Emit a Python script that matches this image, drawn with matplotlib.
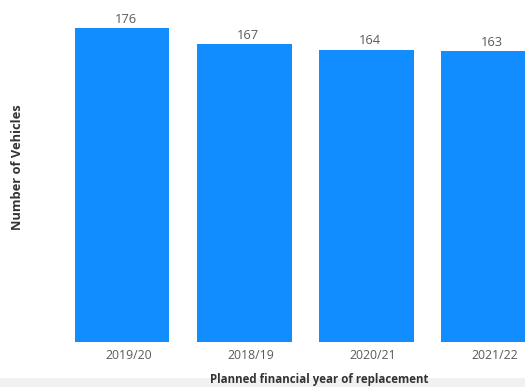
import matplotlib
matplotlib.use("Agg")
import matplotlib.pyplot as plt
from matplotlib.patches import Rectangle

categories = ["2019/20", "2018/19", "2020/21", "2021/22"]
values = [176, 167, 164, 163]

W, H = 525, 387
fig = plt.figure(figsize=(W / 100, H / 100), dpi=100)
fig.patch.set_facecolor("white")

# bottom gray strip
fig.patches.append(Rectangle((0, 0), 1, 9 / H, transform=fig.transFigure,
                             facecolor="#f1f1f1", edgecolor="none", zorder=0))

step = 122.2
left_px = 61
bottom_px = 342
ymax = 190
px_per_unit = (342 - 28.3) / 176
ax = fig.add_axes([left_px / W, 1 - bottom_px / H,
                   4 * step / W, ymax * px_per_unit / H])
ax.set_facecolor("none")

x = list(range(len(categories)))
bars = ax.bar(x, values, width=0.775, color="#118DFF", zorder=2)
ax.set_xlim(-0.5, len(categories) - 0.5)
ax.set_ylim(0, ymax)

for b, v in zip(bars, values):
    ax.text(b.get_x() + b.get_width() / 2 + 0.03, v + 1.3, str(v),
            ha="center", va="bottom", fontsize=9.3, color="#5a5a5a",
            family="Open Sans")

ax.set_xticks([i + 0.05 for i in x])
ax.set_xticklabels(categories, fontsize=8.8, color="#5a5a5a", family="Open Sans")
ax.tick_params(axis="x", length=0, pad=5)
ax.set_yticks([])
for s in ax.spines.values():
    s.set_visible(False)

fig.text(319 / W, 1 - 380 / H,
         "Planned financial year of replacement", ha="center", va="center",
         fontsize=8.3, fontweight="bold", color="#333333", family="Open Sans")
fig.text(18 / W, 1 - 167 / H, "Number of Vehicles", rotation=90,
         ha="center", va="center", fontsize=9.3, fontweight="bold",
         color="#333333", family="Open Sans")

fig.savefig("out.png", dpi=100)
